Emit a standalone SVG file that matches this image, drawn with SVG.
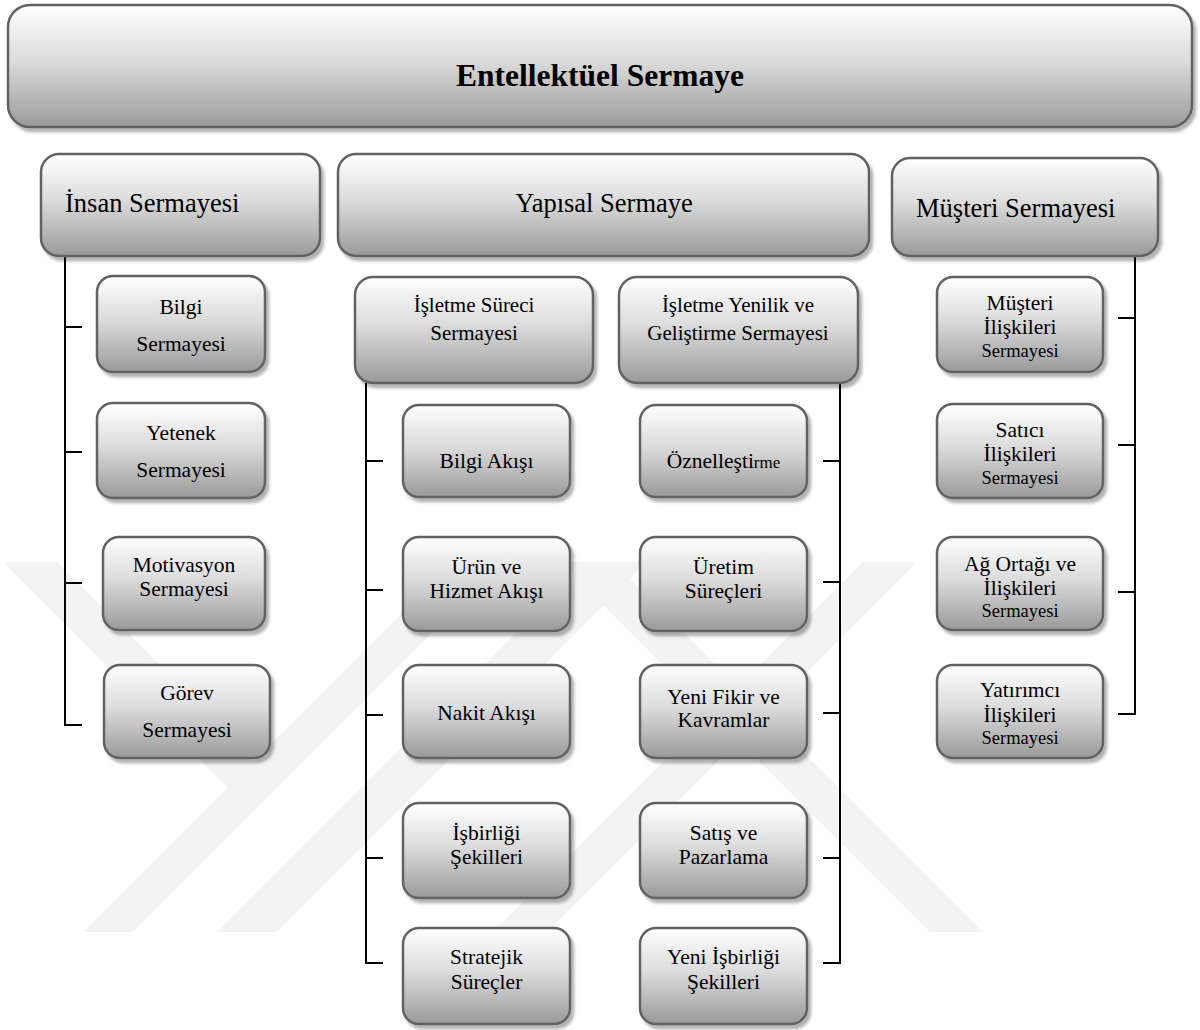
<svg xmlns="http://www.w3.org/2000/svg" width="1200" height="1030" viewBox="0 0 1200 1030">
<defs>
<linearGradient id="g" x1="0" y1="0" x2="0" y2="1">
<stop offset="0" stop-color="#ffffff"/>
<stop offset="0.45" stop-color="#dcdcdc"/>
<stop offset="1" stop-color="#9a9a9a"/>
</linearGradient>
<filter id="sh" x="-5%" y="-5%" width="115%" height="120%">
<feGaussianBlur in="SourceAlpha" stdDeviation="1.5"/>
<feOffset dx="3" dy="4" result="b"/>
<feFlood flood-color="#000" flood-opacity="0.3"/>
<feComposite in2="b" operator="in"/>
<feMerge><feMergeNode/><feMergeNode in="SourceGraphic"/></feMerge>
</filter>
<style>
.box{fill:url(#g);stroke:#626262;stroke-width:2.5;filter:url(#sh)}
.t{font-family:"Liberation Serif","Times New Roman",serif;fill:#000;text-anchor:middle;font-size:21.5px}
.h{font-size:26.5px}
.m{font-size:21px}
.s{font-size:18.5px}
.ln{stroke:#000;stroke-width:2;fill:none}
.wm{fill:#f3f3f3}
</style>
</defs>
<rect width="1200" height="1030" fill="#fff"/>
<g id="watermark">
<polygon class="wm" points="3,562 57,562 267,772 240,800"/>
<polygon class="wm" points="83,932 133,932 503,562 453,562"/>
<polygon class="wm" points="217,932 277,932 647,562 587,562"/>
<polygon class="wm" points="560,562 613,562 983,932 930,932"/>
<polygon class="wm" points="863,562 917,562 547,932 493,932"/>
</g>
<g id="connectors">
<path class="ln" d="M65,256 V725 H82 M65,327 H82 M65,452 H82 M65,583 H82"/>
<path class="ln" d="M366,383 V963 H383 M366,461 H383 M366,590 H383 M366,715 H383 M366,858 H383"/>
<path class="ln" d="M840,383 V963 H823 M840,461 H823 M840,582 H823 M840,713 H823 M840,858 H823"/>
<path class="ln" d="M1135,257 V714 H1118 M1135,318 H1118 M1135,445 H1118 M1135,592 H1118"/>
</g>
<g id="n-entellektuel">
<rect class="box" x="8" y="5" width="1184" height="122" rx="22"/>
<text class="t" x="600" y="86" style="font-size:31.5px;font-weight:bold">Entellektüel Sermaye</text>
</g>
<g id="n-insan">
<rect class="box" x="41" y="154" width="279" height="102" rx="18"/>
<text class="t h" x="65" y="212" style="text-anchor:start">İnsan Sermayesi</text>
</g>
<g id="n-yapisal">
<rect class="box" x="338" y="154" width="531" height="102" rx="18"/>
<text class="t h" x="604" y="212">Yapısal Sermaye</text>
</g>
<g id="n-musteri">
<rect class="box" x="892" y="158" width="266" height="98" rx="18"/>
<text class="t h" x="916" y="217" style="text-anchor:start">Müşteri Sermayesi</text>
</g>
<g id="n-bilgi-sermayesi">
<rect class="box" x="97" y="276" width="168" height="96" rx="16"/>
<text class="t" x="181" y="314">Bilgi</text>
<text class="t" x="181" y="351">Sermayesi</text>
</g>
<g id="n-yetenek">
<rect class="box" x="97" y="403" width="168" height="95" rx="16"/>
<text class="t" x="181" y="440">Yetenek</text>
<text class="t" x="181" y="477">Sermayesi</text>
</g>
<g id="n-motivasyon">
<rect class="box" x="103" y="537" width="162" height="93" rx="16"/>
<text class="t" x="184" y="572">Motivasyon</text>
<text class="t" x="184" y="596">Sermayesi</text>
</g>
<g id="n-gorev">
<rect class="box" x="104" y="665" width="166" height="93" rx="16"/>
<text class="t" x="187" y="700">Görev</text>
<text class="t" x="187" y="737">Sermayesi</text>
</g>
<g id="n-isletme-sureci">
<rect class="box" x="355" y="277" width="238" height="106" rx="18"/>
<text class="t m" x="474" y="312">İşletme Süreci</text>
<text class="t m" x="474" y="340">Sermayesi</text>
</g>
<g id="n-isletme-yenilik">
<rect class="box" x="619" y="277" width="239" height="106" rx="18"/>
<text class="t m" x="738" y="312">İşletme Yenilik ve</text>
<text class="t m" x="738" y="340">Geliştirme Sermayesi</text>
</g>
<g id="n-bilgi-akisi">
<rect class="box" x="403" y="405" width="167" height="92" rx="16"/>
<text class="t" x="486.5" y="468">Bilgi Akışı</text>
</g>
<g id="n-urun">
<rect class="box" x="403" y="537" width="167" height="94" rx="16"/>
<text class="t" x="486.5" y="574">Ürün ve</text>
<text class="t" x="486.5" y="598">Hizmet Akışı</text>
</g>
<g id="n-nakit">
<rect class="box" x="403" y="665" width="167" height="93" rx="16"/>
<text class="t" x="486.5" y="720">Nakit Akışı</text>
</g>
<g id="n-isbirligi">
<rect class="box" x="403" y="803" width="167" height="95" rx="16"/>
<text class="t" x="486.5" y="840">İşbirliği</text>
<text class="t" x="486.5" y="864">Şekilleri</text>
</g>
<g id="n-stratejik">
<rect class="box" x="403" y="928" width="167" height="96" rx="16"/>
<text class="t" x="486.5" y="964">Stratejik</text>
<text class="t" x="486.5" y="989">Süreçler</text>
</g>
<g id="n-oznellestirme">
<rect class="box" x="640" y="405" width="167" height="92" rx="16"/>
<text class="t" x="723.5" y="468">Öznelleşti<tspan style="font-size:17px">rme</tspan></text>
</g>
<g id="n-uretim">
<rect class="box" x="640" y="537" width="167" height="94" rx="16"/>
<text class="t" x="723.5" y="574">Üretim</text>
<text class="t" x="723.5" y="598">Süreçleri</text>
</g>
<g id="n-yeni-fikir">
<rect class="box" x="640" y="665" width="167" height="93" rx="16"/>
<text class="t" x="723.5" y="704">Yeni Fikir ve</text>
<text class="t" x="723.5" y="727">Kavramlar</text>
</g>
<g id="n-satis">
<rect class="box" x="640" y="803" width="167" height="95" rx="16"/>
<text class="t" x="723.5" y="840">Satış ve</text>
<text class="t" x="723.5" y="864">Pazarlama</text>
</g>
<g id="n-yeni-isbirligi">
<rect class="box" x="640" y="928" width="167" height="96" rx="16"/>
<text class="t" x="723.5" y="964">Yeni İşbirliği</text>
<text class="t" x="723.5" y="989">Şekilleri</text>
</g>
<g id="n-musteri-iliskileri">
<rect class="box" x="937" y="277" width="166" height="95" rx="16"/>
<text class="t" x="1020" y="310">Müşteri</text>
<text class="t" x="1020" y="334">İlişkileri</text>
<text class="t s" x="1020" y="357">Sermayesi</text>
</g>
<g id="n-satici">
<rect class="box" x="937" y="404" width="166" height="94" rx="16"/>
<text class="t" x="1020" y="437">Satıcı</text>
<text class="t" x="1020" y="461">İlişkileri</text>
<text class="t s" x="1020" y="484">Sermayesi</text>
</g>
<g id="n-ag-ortagi">
<rect class="box" x="937" y="537" width="166" height="93" rx="16"/>
<text class="t" x="1020" y="571">Ağ Ortağı ve</text>
<text class="t" x="1020" y="595">İlişkileri</text>
<text class="t s" x="1020" y="617">Sermayesi</text>
</g>
<g id="n-yatirimci">
<rect class="box" x="937" y="665" width="166" height="93" rx="16"/>
<text class="t" x="1020" y="697">Yatırımcı</text>
<text class="t" x="1020" y="722">İlişkileri</text>
<text class="t s" x="1020" y="744">Sermayesi</text>
</g>
</svg>
